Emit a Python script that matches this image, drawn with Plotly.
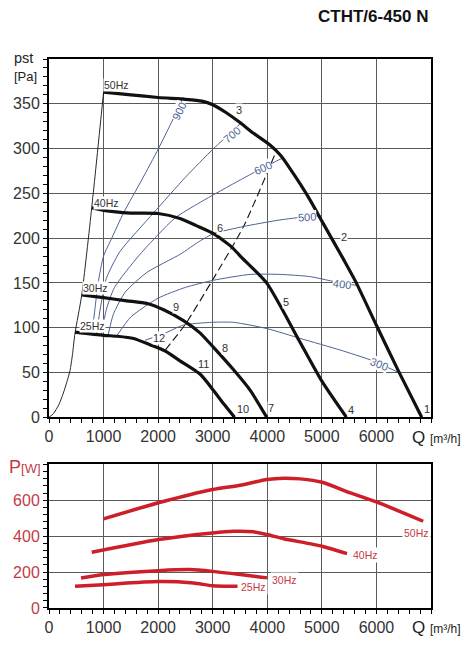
import plotly.graph_objects as go

# ---------------- Upper chart: static pressure curves ----------------
q_50hz = [1000, 1500, 2000, 2500, 2800, 3000, 3250, 3500, 3750, 4050, 4250, 4500, 4780, 5000, 5400, 5615, 6013, 6409, 6830]
p_50hz = [363, 360, 357, 355, 353, 349, 340, 329, 317, 304, 292, 270, 243, 219, 176, 152, 101, 51, 0]

q_40hz = [783, 1000, 1500, 2000, 2400, 2700, 3015, 3350, 3505, 3994, 4545, 5003, 5450]
p_40hz = [234, 231, 228, 227.5, 222, 214, 205, 190, 180, 149.5, 90, 40, 0]

q_30hz = [600, 1000, 1425, 1800, 2100, 2464, 2771, 3015, 3382, 3688, 3990]
p_30hz = [136.5, 133.5, 130, 127, 120, 108, 94, 78, 53, 30, 0]

q_25hz = [477, 1000, 1250, 1550, 1850, 2130, 2400, 2771, 3015, 3200, 3400]
p_25hz = [95, 91.5, 90.5, 88, 81, 74, 63, 48, 30, 15, 0]

q_limit = [0, 80, 180, 263, 330, 385, 430, 477, 600, 783, 1000]
p_limit = [0, 4, 14, 27, 40, 52, 70, 94, 136.5, 234, 363]

q_dashed = [2130, 2500, 2985, 3565, 4150]
p_dashed = [75, 104, 152, 213, 295]

# blue iso-lines
q_900 = [790, 840, 900, 1000, 1150, 1364, 1700, 2006, 2250, 2460]
p_900 = [95, 120, 150, 180, 200, 228, 265, 300, 330, 357]
q_700 = [870, 950, 1050, 1300, 1914, 2500, 3015, 3321, 3540]
p_700 = [93, 125, 155, 185, 228, 268, 300, 317, 330]
q_600 = [960, 1050, 1200, 1640, 2300, 2771, 3505, 3902, 4300]
p_600 = [92, 120, 145, 180, 222, 240, 265, 278, 290]
q_500 = [1080, 1180, 1400, 1800, 2404, 2771, 3015, 3565, 4200, 4716, 5003]
p_500 = [91, 115, 140, 162, 182, 197, 205, 213, 220, 224, 225]
q_400 = [1242, 1500, 2000, 2500, 3015, 3688, 4239, 4789, 5339, 5676]
p_400 = [91, 112, 133, 145, 153, 159.5, 159.5, 157, 150, 147]
q_300 = [1760, 2129, 2464, 2985, 3382, 3994, 4606, 5339, 5890, 6409]
p_300 = [86, 94, 103, 106, 106, 99, 88, 75, 64, 50]

iso_labels = ["900", "700", "600", "500", "400", "300"]
iso_label_q = [2385, 3349, 3917, 4725, 5367, 6046]
iso_label_p = [342, 315, 278, 223.5, 148.8, 59]
iso_label_angle = [-64, -40, -24, -3, 7, 21]

hz_labels = ["50Hz", "40Hz", "30Hz", "25Hz"]
hz_label_q = [1229, 1055, 844, 789]
hz_label_p = [371, 239, 144, 102]

pt_labels = ["1", "2", "3", "4", "5", "6", "7", "8", "9", "10", "11", "12"]
pt_label_q = [6930, 5400, 3473, 5536, 4349, 3125, 4067, 3230, 2325, 3554, 2840, 2024]
pt_label_p = [9, 201, 343, 8, 129, 211, 10, 77, 123, 9, 60, 88]

# ---------------- Lower chart: power curves ----------------
qw_50hz = [997, 2006, 2997, 3505, 3994, 4300, 4606, 5003, 5523, 6013, 6857]
pw_50hz = [496, 586, 660, 684, 716, 723, 719, 700, 641, 589, 483]
qw_40hz = [783, 2006, 2997, 3382, 3749, 3994, 4300, 5003, 5461]
pw_40hz = [310, 381, 418, 427, 424, 409, 386, 344, 303]
qw_30hz = [587, 997, 2006, 2588, 2997, 3505, 3994]
pw_30hz = [167, 186, 208, 214, 204, 186, 167]
qw_25hz = [477, 997, 2006, 2648, 2997, 3455]
pw_25hz = [121, 130, 147, 139, 124, 121]

pw_labels = ["50Hz", "40Hz", "30Hz", "25Hz"]
pw_label_q = [6734, 5798, 4312, 3749]
pw_label_p = [418, 293, 158, 117]

x_ticks = [0, 1000, 2000, 3000, 4000, 5000, 6000]
y_ticks_top = [0, 50, 100, 150, 200, 250, 300, 350]
y_ticks_bot = [0, 200, 400, 600]

FONT = "Liberation Sans, Arial, sans-serif"
BLACK = "#111111"
BLUE = "#4d6394"
RED = "#cc1f2a"
RED_TXT = "#c43a45"

fig = go.Figure()


def line(x, y, color, width, xa="x", ya="y", dash="solid", smooth=True):
    fig.add_trace(go.Scatter(
        x=x, y=y, mode="lines", xaxis=xa, yaxis=ya,
        line=dict(color=color, width=width, dash=dash,
                  shape="spline" if smooth else "linear", smoothing=0.6),
        hoverinfo="skip", showlegend=False))


# upper chart
line(q_limit, p_limit, BLACK, 0.9)
line(q_dashed, p_dashed, BLACK, 1.1, dash="8px,4px")
for qq, pp in [(q_900, p_900), (q_700, p_700), (q_600, p_600),
               (q_500, p_500), (q_400, p_400), (q_300, p_300)]:
    line(qq, pp, BLUE, 1.0)
for qq, pp in [(q_50hz, p_50hz), (q_40hz, p_40hz), (q_30hz, p_30hz), (q_25hz, p_25hz)]:
    line(qq, pp, BLACK, 3.2)

# lower chart
for qq, pp in [(qw_50hz, pw_50hz), (qw_40hz, pw_40hz), (qw_30hz, pw_30hz), (qw_25hz, pw_25hz)]:
    line(qq, pp, RED, 3.5, xa="x2", ya="y2")

ann = []
for t, q, p, a in zip(iso_labels, iso_label_q, iso_label_p, iso_label_angle):
    ann.append(dict(x=q, y=p, xref="x", yref="y", text=t, showarrow=False, textangle=a,
                    font=dict(family=FONT, size=11, color=BLUE), bgcolor="white", borderpad=0))
for t, q, p in zip(hz_labels, hz_label_q, hz_label_p):
    ann.append(dict(x=q, y=p, xref="x", yref="y", text=t, showarrow=False,
                    font=dict(family=FONT, size=10.5, color="#333"), bgcolor="white", borderpad=0))
for t, q, p in zip(pt_labels, pt_label_q, pt_label_p):
    ann.append(dict(x=q, y=p, xref="x", yref="y", text=t, showarrow=False,
                    font=dict(family=FONT, size=11, color="#333"), bgcolor="white", borderpad=0))
for t, q, p in zip(pw_labels, pw_label_q, pw_label_p):
    ann.append(dict(x=q, y=p, xref="x2", yref="y2", text=t, showarrow=False,
                    font=dict(family=FONT, size=10.5, color=RED_TXT), bgcolor="white", borderpad=1))


# paper coords: plot area spans px 49..431 horizontally, 59..608 vertically
def px_x(px):
    return (px - 49) / 382.0


def px_y(py):
    return (608 - py) / 549.0


def paper_text(px, py, text, size, color, xanchor="left"):
    return dict(x=px_x(px), y=px_y(py), xref="paper", yref="paper", text=text,
                xanchor=xanchor, yanchor="middle", showarrow=False,
                font=dict(family=FONT, size=size, color=color))


ann += [
    paper_text(373, 17, "<b>CTHT/6-450 N</b>", 17, "#111", xanchor="center"),
    paper_text(12, 58, "pst", 14.5, "#222"),
    paper_text(12, 76, "[Pa]", 13, "#222"),
    paper_text(410, 437, "Q <span style='font-size:12px'>[m³/h]</span>", 17, "#222"),
    paper_text(410, 628, "Q <span style='font-size:12px'>[m³/h]</span>", 17, "#222"),
    paper_text(7, 467, "P<span style='font-size:13px'>[W]</span>", 18, RED_TXT),
]

common_axis = dict(showline=True, linewidth=2, linecolor="black", mirror=True,
                   gridcolor="#5a5a5a", gridwidth=1.2, zeroline=False,
                   ticks="outside", ticklen=4, tickwidth=1, tickcolor="black")

fig.update_layout(
    width=472, height=648,
    margin=dict(l=49, r=41, t=59, b=40),
    paper_bgcolor="white", plot_bgcolor="white",
    showlegend=False,
    font=dict(family=FONT, size=16, color="#333"),
    annotations=ann,
    xaxis=dict(domain=[0, 1], anchor="y", range=[0, 7000], tickvals=x_ticks,
               minor=dict(dtick=200, tick0=0, ticks="outside", ticklen=4, tickcolor="black", showgrid=False),
               tickfont=dict(family=FONT, size=16, color="#333"), **common_axis),
    yaxis=dict(domain=[0.3474, 1], anchor="x", range=[0, 400], tickvals=y_ticks_top,
               minor=dict(dtick=10, tick0=0, ticks="outside", ticklen=4, tickcolor="black", showgrid=False),
               tickfont=dict(family=FONT, size=16, color="#333"), **common_axis),
    xaxis2=dict(domain=[0, 1], anchor="y2", range=[0, 7000], tickvals=x_ticks,
                minor=dict(dtick=200, tick0=0, ticks="outside", ticklen=4, tickcolor="black", showgrid=False),
                tickfont=dict(family=FONT, size=16, color="#333"), **common_axis),
    yaxis2=dict(domain=[0, 0.2617], anchor="x2", range=[0, 800], tickvals=y_ticks_bot,
                minor=dict(dtick=40, tick0=0, ticks="outside", ticklen=4, tickcolor="black", showgrid=False),
                tickfont=dict(family=FONT, size=16, color=RED_TXT), **common_axis),
)

fig.write_html("out.html")
